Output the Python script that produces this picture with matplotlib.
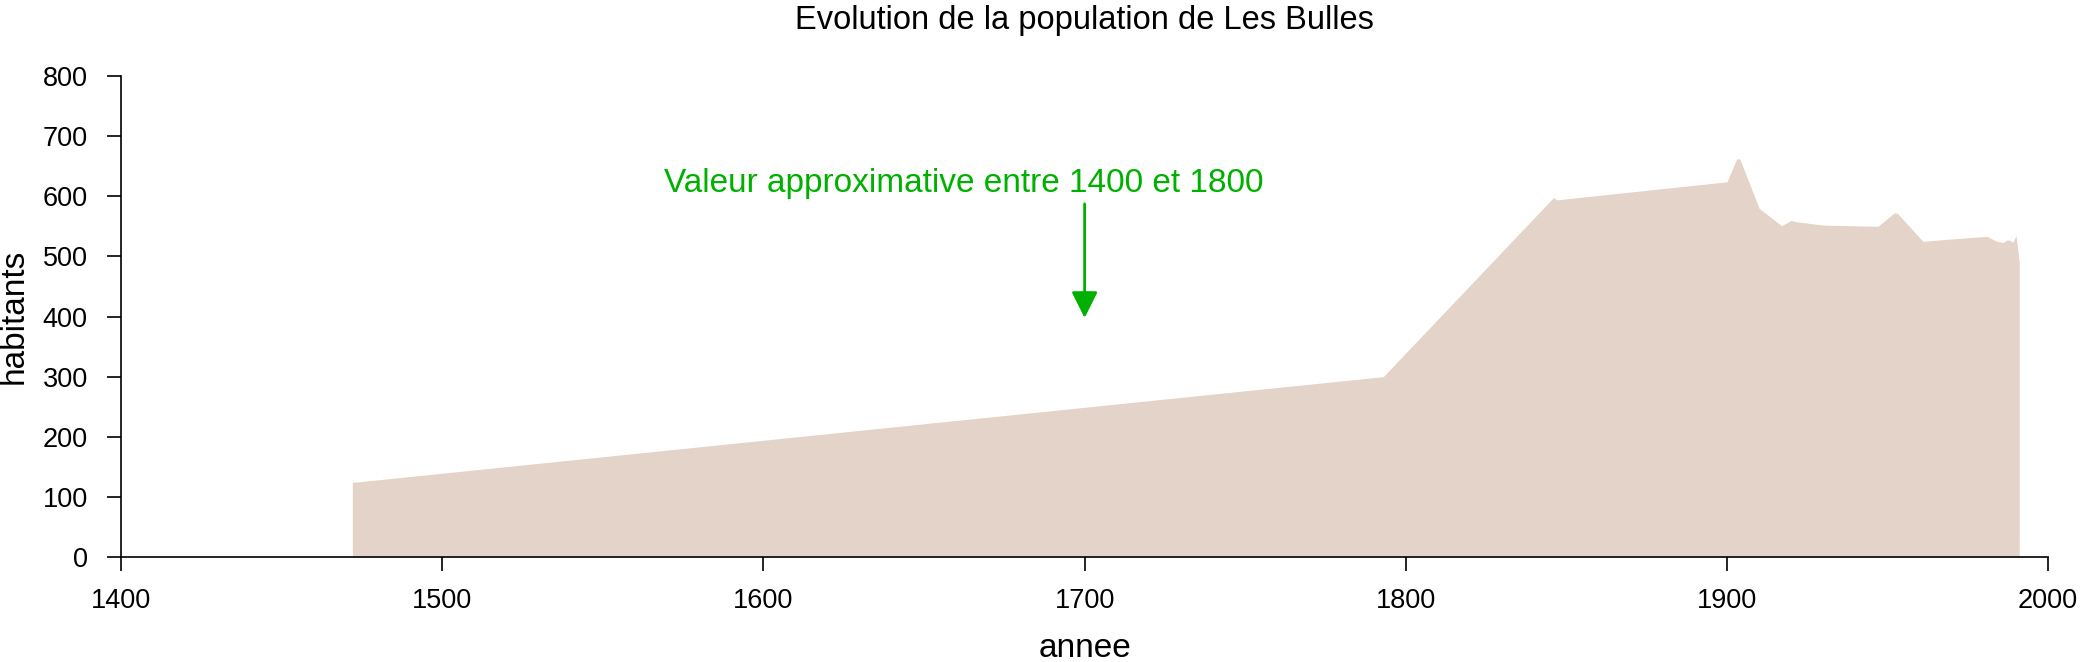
import matplotlib.pyplot as plt

plt.rcParams['font.family'] = ['Liberation Sans', 'DejaVu Sans']

# population
annees = [1472, 1793, 1846, 1847, 1900, 1903, 1904, 1910, 1917, 1920, 1921, 1930,
          1947, 1952, 1953, 1961, 1970, 1980, 1981, 1984, 1986, 1987, 1988, 1989, 1990, 1991]
habitants = [124, 300, 598, 594, 624, 662, 662, 580, 551, 560, 558, 552,
             550, 572, 572, 525, 529, 533, 533, 525, 523, 527, 527, 523, 535, 490]

xticks = [1400, 1500, 1600, 1700, 1800, 1900, 2000]
yticks = [0, 100, 200, 300, 400, 500, 600, 700, 800]

fig = plt.figure(figsize=(20.84, 6.62), dpi=100)
ax = fig.add_axes([0.0581, 0.1586, 0.9247, 0.7266])

ax.fill_between(annees, 0, habitants, color='#E4D3C8', linewidth=0)

ax.set_xlim(1400, 2000)
ax.set_ylim(0, 800)
ax.set_xticks(xticks)
ax.set_yticks(yticks)
ax.spines['top'].set_visible(False)
ax.spines['right'].set_visible(False)
ax.tick_params(labelsize=19.5, length=10, width=1.2)
ax.tick_params(axis='x', pad=12)
ax.tick_params(axis='y', pad=14)
for s in ['left', 'bottom']:
    ax.spines[s].set_linewidth(1.2)

ax.set_xlabel('annee', fontsize=24, labelpad=14)
ax.set_ylabel('habitants', fontsize=24)
ax.yaxis.set_label_coords(-0.0475, 0.5)
ax.set_title('Evolution de la population de Les Bulles', fontsize=23.5, pad=34)

vert = '#00B000'
ax.annotate('', xy=(1700, 393), xytext=(1700, 592),
            arrowprops=dict(arrowstyle='-|>', color=vert, lw=2, mutation_scale=40))
ax.text(1662.5, 621, 'Valeur approximative entre 1400 et 1800', color=vert,
        fontsize=24, ha='center', va='center')

fig.savefig('out.png', dpi=100)
